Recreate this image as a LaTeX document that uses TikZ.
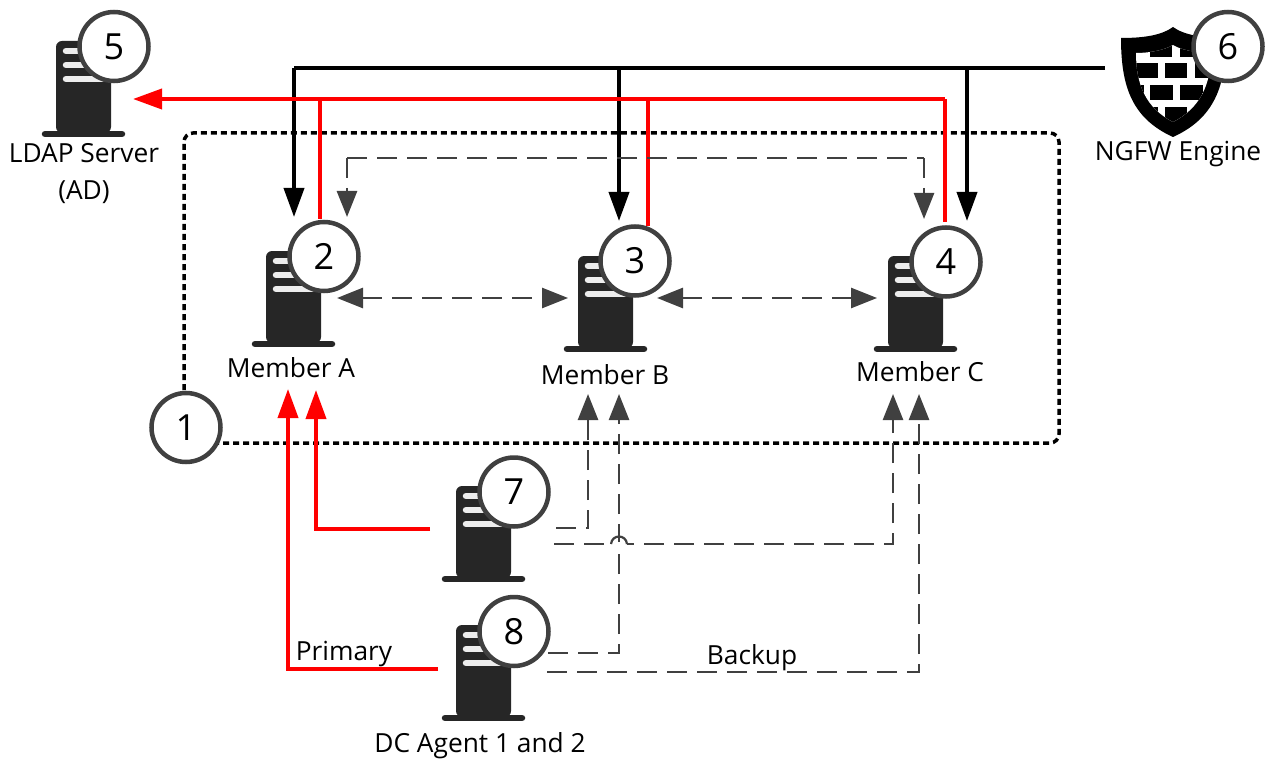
\documentclass[tikz,border=0pt]{standalone}
\usepackage{fontspec}
\setmainfont{Open Sans}
\usetikzlibrary{arrows.meta}
\definecolor{ring}{HTML}{404040}
\definecolor{srv}{HTML}{262626}
\definecolor{slot}{HTML}{EDEDED}
\definecolor{dgray}{HTML}{404040}
\tikzset{
  x=1pt,y=-1pt,
  badge/.style={circle,draw=ring,line width=4.5pt,fill=white,minimum size=69pt,inner sep=0pt,font=\fontsize{36}{36}\selectfont,text=black},
  lbl/.style={font=\fontsize{26.3}{37}\selectfont,text=black,inner sep=0pt,align=center},
  blackline/.style={draw=black,line width=3.8pt,-{Triangle[length=29pt,width=20pt]}},
  redline/.style={draw=red,line width=3.8pt},
  redarrow/.style={redline,-{Triangle[length=29pt,width=20pt]}},
  grayline/.style={draw=dgray,line width=2.6pt,dash pattern=on 20pt off 10pt},
  grayarrow/.style={grayline,-{Triangle[length=26pt,width=20pt]}},
  graydouble/.style={grayline,{Triangle[length=26pt,width=20pt]}-{Triangle[length=26pt,width=20pt]}},
  server/.pic={
    \fill[srv,rounded corners=6pt] (0,92) -- (0,0) -- (55,0) -- (55,92) -- cycle;
    \draw[srv,line width=6.5pt,line cap=round] (-11,93) -- (66,93);
    \draw[slot,line width=6.5pt,line cap=round] (10,10) -- (46,10);
    \draw[slot,line width=6.5pt,line cap=round] (10,24) -- (46,24);
    \draw[slot,line width=6.5pt,line cap=round] (10,38) -- (46,38);
  }
}
\begin{document}
\begin{tikzpicture}
\useasboundingbox (0,0) rectangle (1265,759);
% group frame
\draw[black,line width=3.5pt,dash pattern=on 6pt off 4pt,rounded corners=9pt] (184,400) -- (184,133) -- (1059,133) -- (1059,443) -- (215,443);

% connector end points
\coordinate (ngfw) at (1105,68);
\coordinate (blkA) at (294,68);
\coordinate (blkB) at (619,68);
\coordinate (blkC) at (967,68);
\coordinate (blkAend) at (294,217);
\coordinate (blkBend) at (619,221);
\coordinate (blkCend) at (967,221);
\coordinate (ldapin) at (133,99);
\coordinate (redC) at (945,99);
\coordinate (redCend) at (945,222);
\coordinate (redA) at (320,99);
\coordinate (redAend) at (320,219);
\coordinate (redB) at (648,99);
\coordinate (redBend) at (648,226);
\coordinate (syncA) at (347,217);
\coordinate (syncAtop) at (347,158);
\coordinate (syncCtop) at (924,158);
\coordinate (syncC) at (924,219);
\coordinate (abL) at (337,298);
\coordinate (abR) at (568,298);
\coordinate (bcL) at (657,298);
\coordinate (bcR) at (877,298);
\coordinate (s7r) at (430,529);
\coordinate (s7rc) at (316,529);
\coordinate (memAin2) at (316,390);
\coordinate (s8r) at (438,669);
\coordinate (s8rc) at (288,669);
\coordinate (memAin1) at (288,389);
\coordinate (s7a) at (556,528);
\coordinate (s7ac) at (588,528);
\coordinate (memBin1) at (588,394);
\coordinate (s7b) at (554,544);
\coordinate (s7bc) at (893,544);
\coordinate (memCin1) at (893,394);
\coordinate (s8a) at (548,653);
\coordinate (s8ac) at (619,653);
\coordinate (memBin2) at (619,394);
\coordinate (s8b) at (547,672);
\coordinate (s8bc) at (919,672);
\coordinate (memCin2) at (919,394);
\coordinate (hopL) at (611,544);
\coordinate (hopR) at (627,544);

% black
\draw[draw=black,line width=3.8pt] (ngfw) -- (blkA);
\draw[blackline] (blkA) -- (blkAend);
\draw[blackline] (blkB) -- (blkBend);
\draw[blackline] (blkC) -- (blkCend);
% red upper
\draw[redarrow] (redC) -- (ldapin);
\draw[redline] (redCend) -- (redC);
\draw[redline] (redAend) -- (redA);
\draw[redline] (redBend) -- (redB);
% sync
\draw[grayarrow] (syncAtop) -- (syncA);
\draw[grayline] (syncAtop) -- (syncCtop);
\draw[grayarrow] (syncCtop) -- (syncC);
\draw[graydouble] (abL) -- (abR);
\draw[graydouble] (bcL) -- (bcR);
% red lower
\draw[redarrow] (s7r) -- (s7rc) -- (memAin2);
\draw[redarrow] (s8r) -- (s8rc) -- (memAin1);
% dashed lower
\draw[grayarrow] (s7a) -- (s7ac) -- (memBin1);
\draw[grayarrow] (s7b) -- (s7bc) -- (memCin1);
\draw[grayarrow] (s8a) -- (s8ac) -- (memBin2);
\draw[grayarrow] (s8b) -- (s8bc) -- (memCin2);
% hop
\draw[white,line width=4pt] (hopL) -- (hopR);
\draw[dgray,line width=2.2pt] (hopL) .. controls (612,534) and (626,534) .. (hopR);

% servers
\pic at (56,41) {server};
\pic at (266,251) {server};
\pic at (578,256) {server};
\pic at (888,256) {server};
\pic at (456,486) {server};
\pic at (456,625) {server};

% shield
\fill[black] (1121,38) .. controls (1145,38) and (1162,35) .. (1173,27) .. controls (1184,35) and (1202,38) .. (1226,38) .. controls (1226,85) and (1215,118) .. (1173,137) .. controls (1131,118) and (1121,85) .. (1121,38) -- cycle;
\begin{scope}
\clip (1136,53) .. controls (1150,53) and (1165,50) .. (1173,45) .. controls (1181,50) and (1196,53) .. (1211,53) .. controls (1211,85) and (1200,108) .. (1173,122) .. controls (1146,108) and (1136,85) .. (1136,53) -- cycle;
\fill[white] (1130,40) rectangle (1220,130);
\fill[black] (1150,46) rectangle (1172,57);
\fill[black] (1180,46) rectangle (1193,57);
\fill[black] (1130,63) rectangle (1158,78);
\fill[black] (1165,63) rectangle (1187,78);
\fill[black] (1195,63) rectangle (1220,78);
\fill[black] (1130,85) rectangle (1144,100);
\fill[black] (1150,85) rectangle (1173,100);
\fill[black] (1180,85) rectangle (1203,100);
\fill[black] (1210,85) rectangle (1220,100);
\fill[black] (1130,107) rectangle (1158,125);
\fill[black] (1165,107) rectangle (1187,125);
\fill[black] (1195,107) rectangle (1220,125);
\end{scope}

% badges
\node[badge] (b1) at (186,427.5) {1};
\node[badge] (b2) at (324,256.5) {2};
\node[badge] (b3) at (635,261) {3};
\node[badge] (b4) at (946,262) {4};
\node[badge] (b5) at (114,46.5) {5};
\node[badge] (b6) at (1228,46.5) {6};
\node[badge] (b7) at (514,492) {7};
\node[badge] (b8) at (514,631.5) {8};

% labels
\node[lbl] (l5) at (84,174) {LDAP Server\\(AD)};
\node[lbl] (l6) at (1178,154) {NGFW Engine};
\node[lbl] (lA) at (291,368) {Member A};
\node[lbl] (lB) at (605,374.5) {Member B};
\node[lbl] (lC) at (920,372) {Member C};
\node[lbl] (lP) at (344,654) {Primary};
\node[lbl] (lK) at (752,658) {Backup};
\node[lbl] (lD) at (480,745.5) {DC Agent 1 and 2};
\end{tikzpicture}
\end{document}
